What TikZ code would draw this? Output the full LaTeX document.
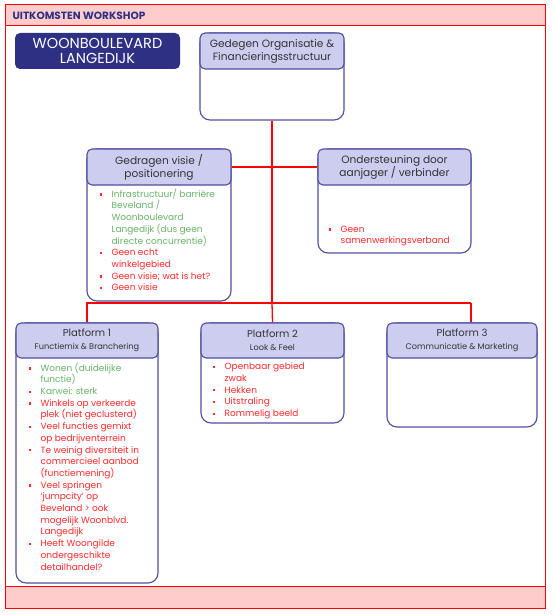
\documentclass[tikz,border=0pt]{standalone}
\usepackage{fontspec}
\setmainfont{Poppins}
\usetikzlibrary{positioning}
\definecolor{boxblue}{HTML}{4F4F9E}
\definecolor{headfill}{HTML}{CDCDF0}
\definecolor{navy}{HTML}{2E3183}
\definecolor{linered}{HTML}{FF0000}
\definecolor{bandfill}{HTML}{FFCCCC}
\definecolor{itemred}{HTML}{FF2A2A}
\definecolor{itemgreen}{HTML}{66B566}
\definecolor{headtxt}{HTML}{333333}
\newcommand{\bul}{\makebox[12pt][l]{\color{itemred}\raisebox{1.6pt}{\rule{2.3pt}{2.3pt}}}}
\newcommand{\itm}[1]{\bul#1}
\newcommand{\cnt}[1]{\hspace*{12pt}#1}
\tikzset{
  box/.style={draw=boxblue, line width=1.1pt, fill=white, rounded corners=10pt, inner sep=0pt},
  head/.style={draw=boxblue, line width=1.1pt, fill=headfill, rounded corners=5pt, inner sep=0pt,
    align=center, text=headtxt, font=\fontsize{10.6}{13}\selectfont},
  items/.style={inner sep=0pt, align=left, font=\fontsize{9}{11.7}\selectfont},
  link/.style={draw=linered, line width=1.3pt},
}
\begin{document}
\begin{tikzpicture}[x=1pt,y=-1pt]
  \useasboundingbox (0,0) rectangle (552,615);
  \draw[linered, line width=1pt] (5,5) rectangle (545,608);
  \draw[linered, line width=1pt, fill=bandfill] (5,5) rectangle (545,26);
  \draw[linered, line width=1pt, fill=bandfill] (5,586) rectangle (545,608);
  \node[anchor=west, text=navy, font=\bfseries\fontsize{10.5}{12}\selectfont] (title) at (9,16) {UITKOMSTEN WORKSHOP};

  \node[fill=navy, rounded corners=5pt, minimum width=165, minimum height=36, inner sep=0pt,
    align=center, text=white, font=\fontsize{14.5}{15.5}\selectfont] (place) at (97.5,51) {WOONBOULEVARD\\LANGEDIJK};

  % boxes
  \node[box, minimum width=144, minimum height=87] (org) at (272,76.5) {};
  \node[head, minimum width=144, minimum height=36, anchor=north] (orghead) at (org.north)
    {Gedegen Organisatie \&\\Financieringsstructuur};

  \node[box, minimum width=144, minimum height=152] (visie) at (159,225) {};
  \node[head, minimum width=144, minimum height=36, anchor=north] (visiehead) at (visie.north)
    {Gedragen visie /\\positionering};

  \node[box, minimum width=153, minimum height=104] (steun) at (394.5,201) {};
  \node[head, minimum width=153, minimum height=36, anchor=north] (steunhead) at (steun.north)
    {Ondersteuning door\\aanjager / verbinder};

  \node[box, minimum width=142, minimum height=260] (pf1) at (87,453) {};
  \node[head, minimum width=142, minimum height=35, anchor=north] (pf1head) at (pf1.north)
    {\fontsize{10}{12.5}\selectfont Platform 1\\{\fontsize{8.2}{12.5}\selectfont Functiemix \& Branchering}};

  \node[box, minimum width=143, minimum height=100] (pf2) at (272.5,373) {};
  \node[head, minimum width=143, minimum height=35, anchor=north] (pf2head) at (pf2.north)
    {\fontsize{10}{12.5}\selectfont Platform 2\\{\fontsize{8.2}{12.5}\selectfont Look \& Feel}};

  \node[box, minimum width=150, minimum height=104] (pf3) at (462,375) {};
  \node[head, minimum width=150, minimum height=35, anchor=north] (pf3head) at (pf3.north)
    {\fontsize{10}{12.5}\selectfont Platform 3\\{\fontsize{8.2}{12.5}\selectfont Communicatie \& Marketing}};

  % items
  \node[items, anchor=north west, xshift=13pt, yshift=-3pt] (visielist) at (visiehead.south west) {%
    \itm{\color{itemgreen}Infrastructuur/ barrière}\\
    \cnt{\color{itemgreen}Beveland /}\\
    \cnt{\color{itemgreen}Woonboulevard}\\
    \cnt{\color{itemgreen}Langedijk (dus geen}\\
    \cnt{\color{itemgreen}directe concurrentie)}\\
    \itm{\color{itemred}Geen echt}\\
    \cnt{\color{itemred}winkelgebied}\\
    \itm{\color{itemred}Geen visie; wat is het?}\\
    \itm{\color{itemred}Geen visie}};

  \node[items, anchor=south west, xshift=11pt, yshift=7pt] (steunlist) at (steun.south west) {%
    \itm{\color{itemred}Geen}\\
    \cnt{\color{itemred}samenwerkingsverband}};

  \node[items, anchor=north west, xshift=13pt, yshift=-4pt] (pf1list) at (pf1head.south west) {%
    \itm{\color{itemgreen}Wonen (duidelijke}\\
    \cnt{\color{itemgreen}functie)}\\
    \itm{\color{itemgreen}Karwei: sterk}\\
    \itm{\color{itemred}Winkels op verkeerde}\\
    \cnt{\color{itemred}plek (niet geclusterd)}\\
    \itm{\color{itemred}Veel functies gemixt}\\
    \cnt{\color{itemred}op bedrijventerrein}\\
    \itm{\color{itemred}Te weinig diversiteit in}\\
    \cnt{\color{itemred}commercieel aanbod}\\
    \cnt{\color{itemred}(functiemening)}\\
    \itm{\color{itemred}Veel springen}\\
    \cnt{\color{itemred}‘jumpcity’ op}\\
    \cnt{\color{itemred}Beveland > ook}\\
    \cnt{\color{itemred}mogelijk Woonblvd.}\\
    \cnt{\color{itemred}Langedijk}\\
    \itm{\color{itemred}Heeft Woongilde}\\
    \cnt{\color{itemred}ondergeschikte}\\
    \cnt{\color{itemred}detailhandel?}};

  \node[items, anchor=north west, xshift=12pt, yshift=-4pt] (pf2list) at (pf2head.south west) {%
    \itm{\color{itemred}Openbaar gebied}\\
    \cnt{\color{itemred}zwak}\\
    \itm{\color{itemred}Hekken}\\
    \itm{\color{itemred}Uitstraling}\\
    \itm{\color{itemred}Rommelig beeld}};

  % connectors
  \coordinate (hub) at (org.south |- 0,303);
  \coordinate (pf3link) at (471,303);
  \draw[link] (org.south) -- (hub);
  \draw[link] (visiehead.east) -- (steunhead.west);
  \draw[link] (pf1head.north) |- (pf3link);
  \draw[link] (hub) -- (pf2head.north);
  \draw[link] (pf3link) -- (pf3link |- pf3head.north);
\end{tikzpicture}
\end{document}
